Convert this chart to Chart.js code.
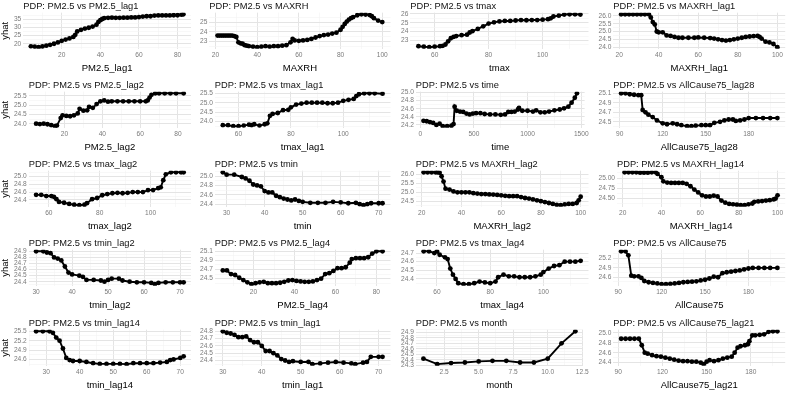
<!DOCTYPE html>
<html><head><meta charset="utf-8">
<script src="https://cdn.jsdelivr.net/npm/chart.js@4/dist/chart.umd.min.js"></script>
<style>
html,body{margin:0;padding:0;background:#fff;}
#wrap{position:relative;width:788px;height:396px;overflow:hidden;}
.cell{position:absolute;}
</style></head><body><div id="wrap"></div>
<script>
// ---- panel titles / axis titles ----
const titles = ["PDP: PM2.5 vs PM2.5_lag1","PDP: PM2.5 vs MAXRH","PDP: PM2.5 vs tmax","PDP: PM2.5 vs MAXRH_lag1",
  "PDP: PM2.5 vs PM2.5_lag2","PDP: PM2.5 vs tmax_lag1","PDP: PM2.5 vs time","PDP: PM2.5 vs AllCause75_lag28",
  "PDP: PM2.5 vs tmax_lag2","PDP: PM2.5 vs tmin","PDP: PM2.5 vs MAXRH_lag2","PDP: PM2.5 vs MAXRH_lag14",
  "PDP: PM2.5 vs tmin_lag2","PDP: PM2.5 vs PM2.5_lag4","PDP: PM2.5 vs tmax_lag4","PDP: PM2.5 vs AllCause75",
  "PDP: PM2.5 vs tmin_lag14","PDP: PM2.5 vs tmin_lag1","PDP: PM2.5 vs month","PDP: PM2.5 vs AllCause75_lag21"];
const xTitles = ["PM2.5_lag1","MAXRH","tmax","MAXRH_lag1","PM2.5_lag2","tmax_lag1","time","AllCause75_lag28",
  "tmax_lag2","tmin","MAXRH_lag2","MAXRH_lag14","tmin_lag2","PM2.5_lag4","tmax_lag4","AllCause75",
  "tmin_lag14","tmin_lag1","month","AllCause75_lag21"];
const yTitle = "yhat";

// ---- data ----
const p01_x = [4,6,8,10,12,14,16,18,20,22,24,26,27,28,30,32,34,36,38,39,40,41,42,44,46,48,50,52,54,56,58,60,62,64,66,68,70,72,74,76,78,80,82,83];
const p01_y = [18.4,18.2,17.9,18.3,18.8,19.3,20.0,20.8,21.8,22.6,23.3,24.2,25.5,27.6,28.6,29.4,29.9,30.6,31.8,33.5,34.6,35.3,35.8,36.0,36.1,36.0,36.0,36.1,36.1,36.3,36.3,36.5,36.8,37.0,37.0,37.4,37.5,37.5,37.5,37.5,37.6,37.6,38.0,38.2];
const p01_xt = ["20","40","60","80"], p01_yt = ["20","25","30","35"];

const p02_x = [21,22,23,24,25,26,27,28,29,30,31,32,33,34,35,36,38,40,42,44,46,48,50,52,54,56,57,58,60,62,64,66,68,70,72,74,76,78,80,81,82,83,84,85,86,88,90,92,94,95,96,98,100];
const p02_y = [23.6,23.6,23.6,23.6,23.6,23.6,23.6,23.6,23.55,23.45,22.9,22.8,22.75,22.6,22.55,22.5,22.45,22.4,22.45,22.5,22.45,22.5,22.5,22.55,22.6,22.9,23.25,23.1,23.05,23.1,23.15,23.25,23.4,23.55,23.65,23.7,23.8,23.9,24.2,24.5,24.8,25.05,25.25,25.4,25.5,25.7,25.8,25.78,25.72,25.6,25.4,25.15,25.0];
const p02_xt = ["20","40","60","80","100"], p02_yt = ["23","24","25"];

const p03_x = [54,56,58,60,62,63,64,65,66,67,68,70,72,73,74,76,78,80,82,84,86,88,90,92,94,96,98,100,102,103,104,106,108,110,112,114];
const p03_y = [22.35,22.3,22.25,22.3,22.35,22.4,22.55,22.9,23.25,23.4,23.5,23.6,23.65,23.9,24.05,24.3,24.6,24.9,25.05,25.15,25.2,25.2,25.25,25.3,25.28,25.3,25.3,25.35,25.4,25.5,25.7,25.8,25.92,25.95,25.95,25.92];
const p03_xt = ["60","80","100"], p03_yt = ["23","24","25","26"];

const p04_x = [21,23,25,27,29,31,33,35,36,37,38,39,40,42,44,46,48,50,52,55,58,60,63,66,68,70,72,74,76,78,80,82,84,86,88,90,91,92,94,96,98,100];
const p04_y = [26.1,26.1,26.1,26.1,26.1,26.1,26.1,26.1,25.9,25.6,25.45,25.0,24.95,24.95,24.75,24.72,24.65,24.6,24.6,24.6,24.6,24.62,24.6,24.58,24.55,24.5,24.45,24.42,24.45,24.5,24.55,24.6,24.65,24.68,24.7,24.72,24.65,24.55,24.35,24.3,24.2,24.0];
const p04_xt = ["20","40","60","80","100"], p04_yt = ["24.0","24.5","25.0","25.5","26.0"];

const p05_x = [5,7,9,11,13,15,16,18,19,21,23,25,27,28,30,32,33,35,37,39,41,43,45,48,51,54,57,60,63,64,65,66,68,70,73,76,79,83];
const p05_y = [24.0,23.98,24.0,23.97,23.92,23.87,23.9,24.3,24.45,24.42,24.4,24.45,24.55,24.8,24.7,24.72,24.9,24.85,25.05,25.2,25.25,25.18,25.2,25.2,25.2,25.2,25.2,25.2,25.2,25.25,25.4,25.55,25.63,25.63,25.63,25.63,25.63,25.63];
const p05_xt = ["20","40","60","80"], p05_yt = ["24.0","24.5","25.0","25.5"];

const p06_x = [54,56,58,60,62,64,65,66,68,70,71,72,73,75,77,79,80,82,84,86,88,90,92,94,96,98,100,102,104,105,106,108,110,112,115];
const p06_y = [23.8,23.8,23.75,23.75,23.78,23.83,23.8,23.85,23.78,23.85,23.9,24.3,24.4,24.45,24.6,24.62,24.75,24.9,24.95,25.0,25.0,25.0,25.0,24.97,24.97,25.0,25.1,25.15,25.2,25.35,25.45,25.5,25.5,25.5,25.48];
const p06_xt = ["60","80","100"], p06_yt = ["24.0","24.5","25.0","25.5"];

const p07_x = [30,60,90,120,150,180,210,250,290,310,320,340,370,400,430,460,490,520,560,600,650,700,750,790,820,850,880,910,920,950,1000,1050,1080,1120,1160,1200,1250,1300,1340,1380,1410,1440,1460];
const p07_y = [24.3,24.29,24.27,24.25,24.2,24.23,24.17,24.17,24.18,24.22,24.65,24.55,24.53,24.52,24.48,24.46,24.48,24.49,24.49,24.47,24.46,24.46,24.45,24.46,24.52,24.52,24.53,24.58,24.62,24.55,24.55,24.53,24.56,24.51,24.51,24.53,24.56,24.58,24.61,24.65,24.75,24.87,24.98];
const p07_xt = ["0","500","1000","1500"], p07_yt = ["24.2","24.4","24.6","24.8","25.0"];

const p08_x = [91,94,97,100,103,105,106,108,110,113,116,120,123,127,130,133,137,140,143,147,150,153,156,160,163,166,169,171,174,177,180,185,190,195,200];
const p08_y = [25.1,25.1,25.08,25.07,25.06,25.06,24.75,24.7,24.65,24.6,24.53,24.47,24.45,24.47,24.45,24.43,24.41,24.41,24.42,24.43,24.43,24.43,24.48,24.5,24.53,24.55,24.55,24.52,24.53,24.55,24.58,24.58,24.58,24.58,24.58];
const p08_xt = ["90","120","150","180"], p08_yt = ["24.5","24.7","24.9","25.1"];

const p09_x = [55,57,59,61,62,63,64,66,68,70,72,74,75,77,79,81,83,85,87,89,91,93,95,97,99,101,103,104,105,106,108,110,112,113];
const p09_y = [24.53,24.53,24.5,24.5,24.48,24.42,24.35,24.33,24.3,24.28,24.27,24.28,24.32,24.42,24.45,24.52,24.55,24.57,24.58,24.57,24.58,24.6,24.6,24.6,24.65,24.65,24.7,24.72,24.9,25.05,25.1,25.1,25.1,25.1];
const p09_xt = ["60","80","100"], p09_yt = ["24.4","24.6","24.8","25.0"];

const p10_x = [29,30,32,34,35,36,37,38,39,40,41,42,43,44,45,46,47,48,49,50,52,54,56,58,60,62,64,65,66,67,68,70,71];
const p10_y = [25.08,25.03,25.03,24.98,24.95,24.9,24.82,24.8,24.78,24.68,24.65,24.65,24.58,24.55,24.52,24.5,24.48,24.5,24.47,24.45,24.43,24.43,24.43,24.45,24.44,24.42,24.43,24.4,24.38,24.4,24.42,24.42,24.42];
const p10_xt = ["30","40","50","60","70"], p10_yt = ["24.4","24.6","24.8","25.0"];

const p11_x = [21,23,25,27,28,29,30,31,32,34,36,38,40,42,44,46,48,50,52,54,56,58,60,62,64,66,68,70,72,74,76,78,80,82,84,86,88,90,92,94,96,98,99,100];
const p11_y = [26.12,26.12,26.12,26.12,26.12,26.1,25.9,25.6,25.2,25.15,25.05,25.0,25.0,25.0,25.0,24.95,24.93,24.9,24.9,24.88,24.87,24.85,24.83,24.8,24.78,24.78,24.78,24.73,24.68,24.65,24.6,24.55,24.5,24.45,24.4,24.35,24.3,24.28,24.32,24.35,24.35,24.4,24.55,24.75];
const p11_xt = ["20","40","60","80","100"], p11_yt = ["24.5","25.0","25.5","26.0"];

const p12_x = [21,23,25,27,29,31,33,35,37,38,40,41,43,45,47,49,51,53,55,57,59,61,63,65,67,69,71,73,75,77,79,81,83,85,87,88,90,92,94,96,98,99,100];
const p12_y = [25.14,25.14,25.14,25.14,25.13,25.13,25.13,25.14,25.14,25.1,25.02,24.92,24.89,24.88,24.88,24.88,24.88,24.86,24.8,24.72,24.65,24.58,24.55,24.55,24.57,24.55,24.45,24.4,24.37,24.36,24.35,24.34,24.34,24.36,24.38,24.42,24.43,24.44,24.45,24.46,24.48,24.5,24.58];
const p12_xt = ["20","40","60","80","100"], p12_yt = ["24.50","24.75","25.00"];

const p13_x = [30,32,33,34,35,36,37,38,39,40,42,43,44,46,48,49,50,51,53,54,56,58,60,62,63,64,66,68,70,71];
const p13_y = [24.9,24.9,24.88,24.87,24.8,24.78,24.75,24.65,24.55,24.52,24.5,24.48,24.43,24.43,24.42,24.4,24.43,24.45,24.45,24.42,24.4,24.39,24.39,24.38,24.36,24.38,24.39,24.39,24.39,24.39];
const p13_xt = ["30","40","50","60","70"], p13_yt = ["24.4","24.5","24.6","24.7","24.8","24.9"];

const p14_x = [5,7,9,11,13,15,17,19,21,23,25,27,29,31,33,35,37,39,41,43,45,47,49,51,53,55,57,59,61,63,65,67,68,70,72,74,76,78,80,83];
const p14_y = [24.68,24.68,24.6,24.58,24.52,24.47,24.42,24.38,24.4,24.42,24.43,24.4,24.4,24.4,24.41,24.43,24.46,24.47,24.45,24.44,24.43,24.43,24.44,24.47,24.5,24.6,24.62,24.67,24.73,24.73,24.75,24.85,24.93,24.95,24.95,24.95,24.97,25.05,25.1,25.1];
const p14_xt = ["20","40","60","80"], p14_yt = ["24.5","24.7","24.9","25.1"];

const p15_x = [55,57,59,60,61,63,64,65,66,67,68,70,72,74,76,78,80,82,83,85,87,89,91,93,95,97,99,100,102,104,106,108,110,112,114];
const p15_y = [24.72,24.72,24.7,24.72,24.68,24.65,24.63,24.52,24.45,24.4,24.35,24.34,24.34,24.35,24.37,24.36,24.35,24.37,24.42,24.45,24.43,24.43,24.42,24.42,24.42,24.43,24.45,24.48,24.52,24.55,24.56,24.6,24.6,24.6,24.61];
const p15_xt = ["60","80","100"], p15_yt = ["24.4","24.5","24.6","24.7"];

const p16_x = [92,95,97,99,101,104,106,108,111,114,117,120,123,126,129,132,135,138,141,144,147,150,153,156,159,162,165,168,171,174,177,180,183,187,191,195,200];
const p16_y = [25.43,25.43,25.3,24.65,24.63,24.63,24.58,24.48,24.44,24.42,24.4,24.38,24.38,24.39,24.4,24.42,24.44,24.45,24.46,24.47,24.5,24.52,24.56,24.62,24.6,24.73,24.76,24.78,24.8,24.82,24.85,24.88,24.9,24.9,24.9,24.9,24.9];
const p16_xt = ["90","120","150","180"], p16_yt = ["24.3","24.6","24.9","25.2"];

const p17_x = [27,29,31,32,33,34,35,36,37,38,40,42,44,46,48,50,52,54,56,58,60,62,64,66,67,68,70,71];
const p17_y = [25.5,25.5,25.5,25.45,25.3,25.2,24.95,24.65,24.58,24.55,24.55,24.52,24.48,24.46,24.46,24.46,24.46,24.45,24.48,24.48,24.48,24.48,24.5,24.52,24.58,24.6,24.65,24.7];
const p17_xt = ["30","40","50","60","70"], p17_yt = ["24.6","24.9","25.2","25.5"];

const p18_x = [30,31,32,33,34,35,36,37,38,39,40,41,42,43,44,45,46,47,48,50,52,53,55,57,59,61,63,64,66,67,68,70,71];
const p18_y = [24.8,24.78,24.77,24.75,24.72,24.72,24.73,24.68,24.65,24.65,24.6,24.53,24.53,24.5,24.47,24.42,24.4,24.38,24.39,24.38,24.38,24.35,24.36,24.37,24.38,24.37,24.36,24.35,24.37,24.38,24.45,24.45,24.45];
const p18_xt = ["30","40","50","60","70"], p18_yt = ["24.4","24.5","24.6","24.7","24.8"];

const p19_x = [1,2,3,4,5,6,7,8,9,10,11,12];
const p19_y = [24.42,24.32,24.34,24.35,24.37,24.38,24.38,24.35,24.35,24.42,24.7,24.92];
const p19_xt = ["2.5","5.0","7.5","10.0","12.5"], p19_yt = ["24.3","24.4","24.5","24.6","24.7","24.8","24.9"];

const p20_x = [92,95,98,101,104,106,108,110,113,116,119,122,125,128,131,134,137,140,143,146,148,150,152,155,158,161,164,167,169,171,173,176,178,179,181,183,186,189,192,195,198];
const p20_y = [24.88,24.88,24.88,24.88,24.88,24.75,24.6,24.58,24.55,24.53,24.52,24.5,24.48,24.46,24.44,24.43,24.43,24.42,24.42,24.4,24.37,24.42,24.45,24.43,24.45,24.48,24.5,24.52,24.6,24.7,24.73,24.75,24.77,24.83,24.95,24.95,24.96,24.97,25.02,25.03,25.03];
const p20_xt = ["90","120","150","180"], p20_yt = ["24.4","24.6","24.8","25.0"];

// ---- build ----
const panels = [
  [p01_x,p01_y,p01_xt,p01_yt],[p02_x,p02_y,p02_xt,p02_yt],[p03_x,p03_y,p03_xt,p03_yt],[p04_x,p04_y,p04_xt,p04_yt],
  [p05_x,p05_y,p05_xt,p05_yt],[p06_x,p06_y,p06_xt,p06_yt],[p07_x,p07_y,p07_xt,p07_yt],[p08_x,p08_y,p08_xt,p08_yt],
  [p09_x,p09_y,p09_xt,p09_yt],[p10_x,p10_y,p10_xt,p10_yt],[p11_x,p11_y,p11_xt,p11_yt],[p12_x,p12_y,p12_xt,p12_yt],
  [p13_x,p13_y,p13_xt,p13_yt],[p14_x,p14_y,p14_xt,p14_yt],[p15_x,p15_y,p15_xt,p15_yt],[p16_x,p16_y,p16_xt,p16_yt],
  [p17_x,p17_y,p17_xt,p17_yt],[p18_x,p18_y,p18_xt,p18_yt],[p19_x,p19_y,p19_xt,p19_yt],[p20_x,p20_y,p20_xt,p20_yt]
];

const FONT = '"Liberation Sans", Arial, sans-serif';
Chart.defaults.font.family = FONT;
const colLeft = [0,197,394,591], colW = [197,197,197,197];
const padL = [0,1,5,5.5], padR = [6,3.5,2.5,2.8];
const rowTop = [0,79,158,237,317], rowH = 79;

function tickList(labels, lo, hi) {
  const vals = labels.map(parseFloat);
  const out = vals.map((v,i)=>({value:v, lbl:labels[i], minor:false}));
  const step = vals.length > 1 ? vals[1]-vals[0] : 1;
  for (let i=0;i<vals.length-1;i++) out.push({value:(vals[i]+vals[i+1])/2, lbl:'', minor:true});
  let m = vals[0]-step/2; if (m >= lo) out.push({value:m, lbl:'', minor:true});
  m = vals[vals.length-1]+step/2; if (m <= hi) out.push({value:m, lbl:'', minor:true});
  return out.filter(t=>t.value>=lo-1e-9 && t.value<=hi+1e-9).sort((a,b)=>a.value-b.value);
}

const wrap = document.getElementById('wrap');
panels.forEach((p, idx) => {
  const [xs, ys, xt, yt] = p;
  const col = idx % 4, row = Math.floor(idx/4);
  const div = document.createElement('div');
  div.className = 'cell';
  div.style.left = colLeft[col]+'px'; div.style.top = rowTop[row]+'px';
  div.style.width = colW[col]+'px'; div.style.height = rowH+'px';
  const cv = document.createElement('canvas');
  cv.width = colW[col]; cv.height = rowH;
  div.appendChild(cv); wrap.appendChild(div);

  const xmin = Math.min(...xs), xmax = Math.max(...xs), xr = xmax-xmin;
  const ymin = Math.min(...ys), ymax = Math.max(...ys), yr = ymax-ymin;
  const xlo = xmin-0.05*xr, xhi = xmax+0.05*xr, ylo = ymin-0.05*yr, yhi = ymax+0.05*yr;
  const xTicks = tickList(xt, xlo, xhi), yTicks = tickList(yt, ylo, yhi);

  const gridColor = ctx => (ctx.tick && ctx.tick.minor) ? '#f3f3f3' : '#e4e4e4';
  const gridWidth = ctx => (ctx.tick && ctx.tick.minor) ? 0.6 : 1;
  const tickFont = {family:FONT, size:6.6};
  const axTitleFont = {family:FONT, size:9.5};

  new Chart(cv, {
    type: 'scatter',
    data: { datasets: [{
      data: xs.map((v,i)=>({x:v, y:ys[i]})),
      showLine: true, borderColor:'#000', backgroundColor:'#000',
      borderWidth:1.9, pointRadius:2.4, pointBorderWidth:0, pointHoverRadius:2.4, tension:0
    }]},
    options: {
      animation:false, responsive:false, events:[],
      layout: {padding:{left:padL[col], right:padR[col], top:0, bottom:2}},
      plugins: {
        legend:{display:false}, tooltip:{enabled:false},
        title:{display:true, text:titles[idx], align:'start', fullSize:false, color:'#111',
          font:{family:FONT, size:9.3, weight:'normal'}, padding:{top:0.5, bottom:1}}
      },
      scales: {
        x: {
          type:'linear', min:xlo, max:xhi,
          afterBuildTicks: s => { s.ticks = xTicks.map(t=>({...t})); },
          ticks:{autoSkip:false, maxRotation:0, padding:2.3, color:'#7a7a7a', font:tickFont,
            callback:(v,i,t)=>t[i].lbl},
          grid:{drawTicks:false, color:gridColor, lineWidth:gridWidth},
          border:{display:false},
          title:{display:true, text:xTitles[idx], color:'#000', font:axTitleFont, padding:{top:1.3, bottom:3}}
        },
        y: {
          type:'linear', min:ylo, max:yhi,
          afterBuildTicks: s => { s.ticks = yTicks.map(t=>({...t})); },
          ticks:{autoSkip:false, padding:2, color:'#7a7a7a', font:tickFont,
            callback:(v,i,t)=>t[i].lbl},
          grid:{drawTicks:false, color:gridColor, lineWidth:gridWidth},
          border:{display:false},
          title:{display:col===0, text:yTitle, color:'#000', font:axTitleFont, padding:{top:0, bottom:0.5}}
        }
      }
    }
  });
});
</script>
</body></html>
